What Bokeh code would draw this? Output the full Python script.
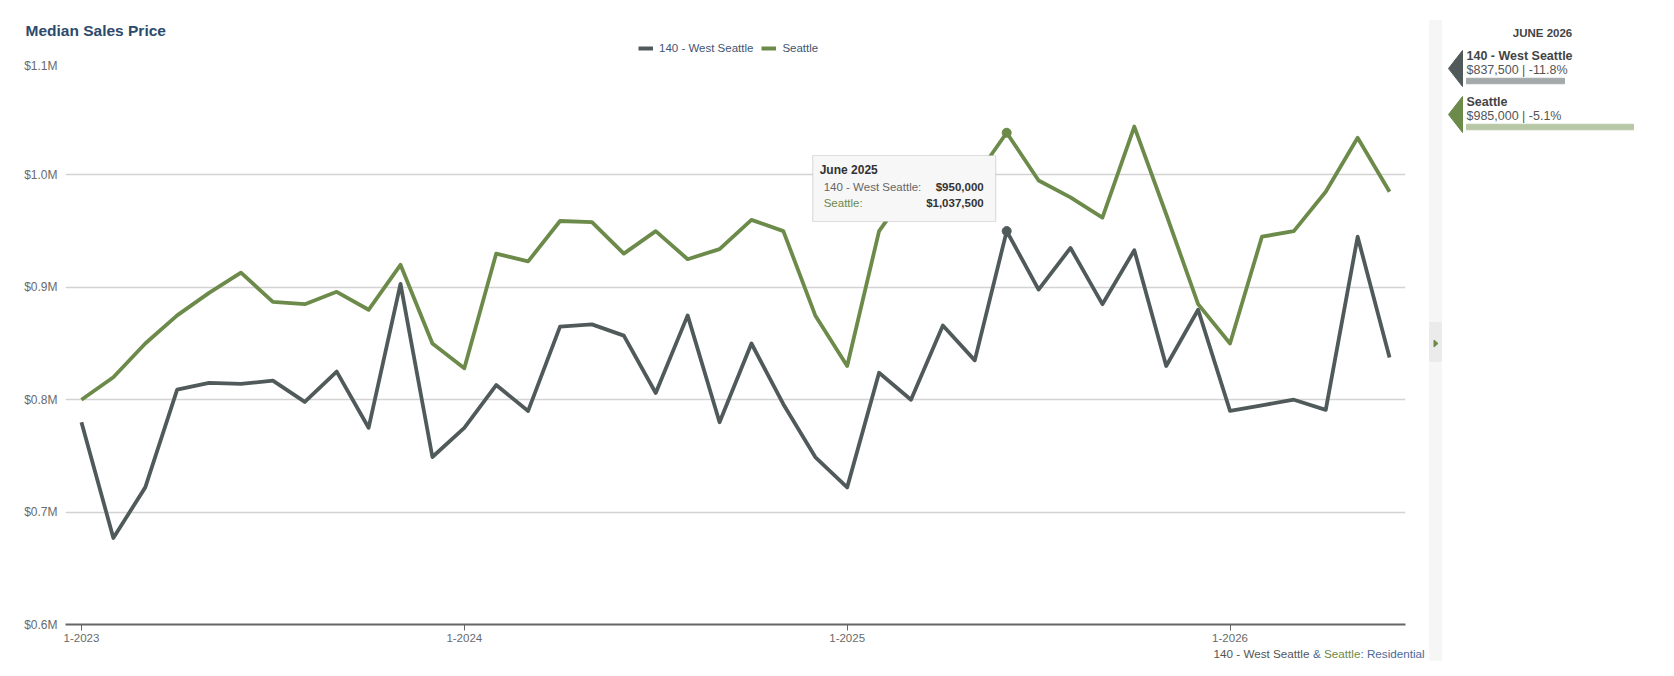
from bokeh.plotting import figure
from bokeh.models import (Range1d, FixedTicker, CustomJSTickFormatter, Label, Legend,
                          LegendItem, BoxAnnotation)
from bokeh.layouts import row, column
from bokeh.embed import file_html
from bokeh.resources import INLINE
from bokeh.core.properties import value

FONT = "Liberation Sans"

# ---------------- data ----------------
series_names = ["140 - West Seattle", "Seattle"]
start_year = 2023
month_names = ["January", "February", "March", "April", "May", "June", "July",
               "August", "September", "October", "November", "December"]

west_seattle = [780000, 677000, 722000, 809000, 815000, 814000, 817000, 798000, 825000, 775000, 903000, 749000,
                775000, 813000, 790000, 865000, 867000, 857000, 806000, 875000, 780000, 850000, 796000, 749000,
                722000, 824000, 800000, 866000, 835000, 950000, 898000, 935000, 885000, 933000, 830000, 880000,
                790000, 795000, 800000, 791000, 945000, 837500]

seattle = [800000, 820000, 850000, 875000, 895000, 913000, 887000, 885000, 896000, 880000, 920000, 850000,
           828000, 930000, 923000, 959000, 958000, 930000, 950000, 925000, 934000, 960000, 950000, 875000,
           830000, 950000, 990000, 990000, 997000, 1037500, 995000, 980000, 962000, 1043000, 965000, 885000,
           850000, 945000, 950000, 985000, 1033000, 985000]

x_ticks = [0, 12, 24, 36]
x_tick_labels = ["1-2023", "1-2024", "1-2025", "1-2026"]
y_ticks = [600000, 700000, 800000, 900000, 1000000, 1100000]
tooltip_index = 29
footnote = [("140 - West Seattle", "#555555"), ("&", "#4a6a9a"), ("Seattle", "#6c8a49"),
            (": Residential", "#4a6a9a")]

# ---------------- style ----------------
DARK = "#515a5a"
GREEN = "#6c8a49"
TEXT = "#6a6a6a"


def no_align(fig):
    try:
        fig.frame_align = False
    except AttributeError:
        pass


months = list(range(len(seattle)))
X0, X1 = -0.5, len(months) - 0.5
Y0, Y1 = 600000, 1100000

W_MAIN = 1428
H_TOP, H_MAIN, H_BOT = 58, 589, 29
ML, MR, MT, MB = 65, W_MAIN - 1405, 4, 23
FW, FH = W_MAIN - ML - MR, H_MAIN - MT - MB

# ---- header: title + legend ----
top = figure(width=W_MAIN, height=H_TOP, x_range=Range1d(0, W_MAIN), y_range=Range1d(H_TOP, 0),
             output_backend="svg", toolbar_location=None, min_border=0,
             x_axis_location=None, y_axis_location=None)
top.outline_line_color = None
top.grid.visible = False
no_align(top)
top.text([25], [30], text=["Median Sales Price"], text_font=value(FONT), text_font_size="15.5px",
         text_font_style="bold", text_color="#2d4a6b", text_baseline="middle")
# legend swatches (their own data lies outside the visible header range)
lw = top.line(x=[-50, -40], y=[-50, -50], line_color=DARK, line_width=4)
ls = top.line(x=[-50, -40], y=[-50, -50], line_color=GREEN, line_width=4)
legend = Legend(items=[LegendItem(label=series_names[0], renderers=[lw]),
                       LegendItem(label=series_names[1], renderers=[ls])],
                orientation="horizontal", location=(638, 3),
                glyph_width=15, glyph_height=14, label_height=14, label_standoff=6, spacing=8,
                padding=0, margin=0, border_line_color=None, background_fill_alpha=0,
                label_text_font=FONT, label_text_font_size="11.5px", label_text_color="#3f5473")
top.add_layout(legend)

# ---- main chart ----
p = figure(width=W_MAIN, height=H_MAIN, x_range=Range1d(X0, X1), y_range=Range1d(Y0, Y1),
           output_backend="svg", toolbar_location=None,
           min_border_left=ML, min_border_right=MR, min_border_top=MT, min_border_bottom=MB)
p.outline_line_color = None
p.xgrid.visible = False
p.ygrid.grid_line_color = "#d3d3d3"
p.ygrid.grid_line_width = 1.5

p.yaxis.ticker = FixedTicker(ticks=y_ticks)
p.yaxis.formatter = CustomJSTickFormatter(code="return '$' + (tick/1e6).toFixed(1) + 'M';")
p.yaxis.axis_line_color = None
p.yaxis.major_tick_line_color = None
p.yaxis.minor_tick_line_color = None
p.yaxis.major_tick_out = 0
p.yaxis.major_tick_in = 0
p.yaxis.minor_tick_out = 0
p.yaxis.major_label_standoff = 8
p.yaxis.major_label_text_font = FONT
p.yaxis.major_label_text_font_size = "12px"
p.yaxis.major_label_text_color = TEXT

p.xaxis.ticker = FixedTicker(ticks=x_ticks)
p.xaxis.major_label_overrides = {t: l for t, l in zip(x_ticks, x_tick_labels)}
p.xaxis.axis_line_color = "#666666"
p.xaxis.axis_line_width = 2
p.xaxis.major_tick_line_color = "#666666"
p.xaxis.major_tick_out = 6
p.xaxis.major_tick_in = 0
p.xaxis.minor_tick_line_color = None
p.xaxis.minor_tick_out = 0
p.xaxis.major_label_standoff = 3
p.xaxis.major_label_text_font = FONT
p.xaxis.major_label_text_font_size = "11.5px"
p.xaxis.major_label_text_color = TEXT

p.line(months, west_seattle, line_color=DARK, line_width=3.8, line_join="round")
p.line(months, seattle, line_color=GREEN, line_width=3.8, line_join="round")
p.scatter([tooltip_index], [west_seattle[tooltip_index]], size=9, color=DARK)
p.scatter([tooltip_index], [seattle[tooltip_index]], size=9, color=GREEN)


def lab(text, x, y, size="11.5px", color=TEXT, style="normal", align="left"):
    p.add_layout(Label(x=x, y=y, x_units="screen", y_units="screen", text=text,
                       text_font=FONT, text_font_size=size, text_color=color,
                       text_font_style=style, text_align=align, text_baseline="middle"))


# tooltip anchored to the highlighted month
ax = (tooltip_index - X0) / (X1 - X0) * FW
tip_right = ax - 11
tip_left = tip_right - 183
tip_bottom, tip_top = 403, 469
p.add_layout(BoxAnnotation(left=tip_left, right=tip_right, bottom=tip_bottom, top=tip_top,
                           left_units="screen", right_units="screen", bottom_units="screen",
                           top_units="screen", fill_color="#f7f7f7", fill_alpha=1.0,
                           line_color="#9a9a9a", line_width=1.2))
tip_date = f"{month_names[tooltip_index % 12]} {start_year + tooltip_index // 12}"
lab(tip_date, tip_left + 7, tip_top - 14, size="12px", color="#333333", style="bold")
lab(series_names[0] + ":", tip_left + 11, tip_top - 31, color="#666666")
lab(f"${west_seattle[tooltip_index]:,.0f}", tip_right - 12, tip_top - 31, color="#333333",
    style="bold", align="right")
lab(series_names[1] + ":", tip_left + 11, tip_top - 47, color=GREEN)
lab(f"${seattle[tooltip_index]:,.0f}", tip_right - 12, tip_top - 47, color="#333333",
    style="bold", align="right")

# ---- footer note ----
bot = figure(width=W_MAIN, height=H_BOT, x_range=Range1d(0, W_MAIN), y_range=Range1d(H_BOT, 0),
             output_backend="svg", toolbar_location=None, min_border=0,
             x_axis_location=None, y_axis_location=None)
bot.outline_line_color = None
bot.grid.visible = False
no_align(bot)
foot_x = [1213, 1312.5, 1323.5, 1359.9]
bot.text(foot_x, [6] * 4, text=[t for t, _ in footnote], text_color=[c for _, c in footnote],
         text_font=value(FONT), text_font_size="11.7px", text_baseline="middle")

# ---------------- side panel ----------------
W_SIDE = 1674 - W_MAIN
H = H_TOP + H_MAIN + H_BOT
OX = W_MAIN - 1420          # panel layout positions are measured from x=1420
BAR_BASE = 628000
BAR_K = (985000 - BAR_BASE) / 167.0
q = figure(width=W_SIDE, height=H, x_range=Range1d(OX, OX + W_SIDE), y_range=Range1d(H, 0),
           output_backend="svg", toolbar_location=None, min_border=0,
           x_axis_location=None, y_axis_location=None)
q.outline_line_color = None
q.grid.visible = False
no_align(q)
q.extra_x_ranges = {"usd": Range1d(BAR_BASE - (46 - OX) * BAR_K,
                                   BAR_BASE + (W_SIDE - (46 - OX)) * BAR_K)}

q.quad(left=[9], right=[21], top=[20], bottom=[660], color="#f6f6f6")
q.quad(left=[9], right=[21], top=[322], bottom=[361], color="#ebebeb")
q.patch([13.5, 17.5, 13.5], [339.5, 343, 346.5], color=GREEN)

last = len(months) - 1
q.text([122], [32], text=[f"{month_names[last % 12].upper()} {start_year + last // 12}"],
       text_font=value(FONT), text_font_size="11.5px", text_font_style="bold",
       text_color="#444444", text_align="center", text_baseline="middle")

panel_series = [(series_names[0], west_seattle, DARK, "#a4a9a9"),
                (series_names[1], seattle, GREEN, "#b8c7a6")]
for i, (name, vals, col, barcol) in enumerate(panel_series):
    dy = 46 * i
    cur, prev = vals[-1], vals[-13]
    pct = (cur / prev - 1) * 100
    q.patch([28, 42, 42], [68 + dy, 50 + dy, 86 + dy], color=col)
    q.text([46], [55 + dy], text=[name], text_font=value(FONT), text_font_size="12.5px",
           text_font_style="bold", text_color="#444444", text_baseline="middle")
    q.text([46], [69 + dy], text=[f"${cur:,.0f} | {pct:.1f}%"], text_font=value(FONT),
           text_font_size="12.5px", text_color="#555555", text_baseline="middle")
    q.hbar(y=[80.5 + dy], height=5.5, left=BAR_BASE, right=[cur], color=barcol, x_range_name="usd")

layout = row(column(top, p, bot), q)
with open("out.html", "w") as f:
    f.write(file_html(layout, INLINE))
